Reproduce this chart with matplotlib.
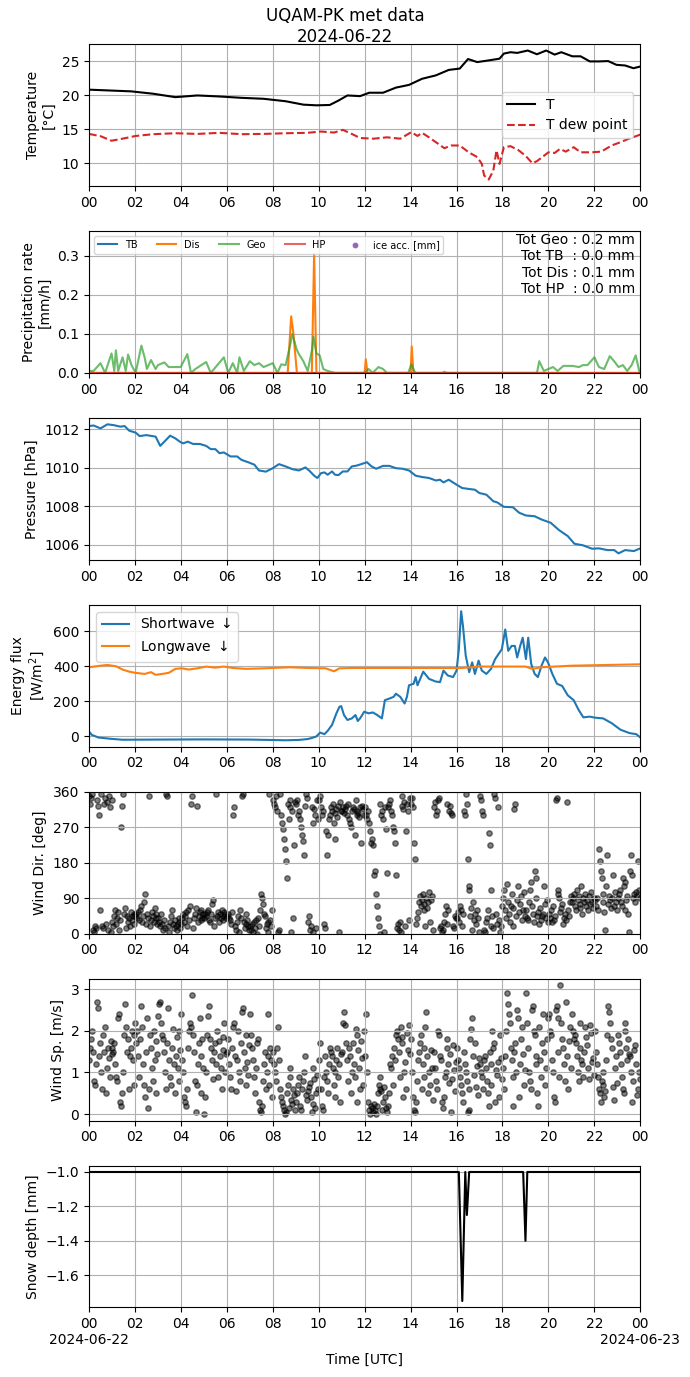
import numpy as np
import matplotlib
matplotlib.use("Agg")
from matplotlib import pyplot as plt

# ---------------- data (hours UTC on 2024-06-22) ----------------
t_temp = [0, 1.84, 2.8, 3.76, 4.72, 5.68, 6.64, 7.6, 8.56, 9.33, 9.9, 10.48, 10.86,
          11.25, 11.8, 12.2, 12.8, 13.36, 13.93, 14.5, 15.1, 15.66, 16.14, 16.5,
          16.9, 17.4, 17.87, 18.06, 18.35, 18.64, 19.1, 19.5, 19.9, 20.27, 20.56,
          21.04, 21.4, 21.8, 22.2, 22.6, 22.96, 23.34, 23.7, 24]
temp = [20.8, 20.55, 20.2, 19.7, 19.95, 19.8, 19.6, 19.46, 19.1, 18.6, 18.5, 18.55,
        19.2, 19.95, 19.85, 20.35, 20.35, 21.1, 21.5, 22.4, 22.9, 23.7, 23.9, 25.3,
        24.85, 25.1, 25.35, 26.1, 26.3, 26.2, 26.55, 26.0, 26.55, 25.95, 26.3,
        25.7, 25.7, 24.95, 24.95, 25.0, 24.45, 24.35, 23.95, 24.2]

t_dew = [0, 0.5, 0.98, 1.46, 2.03, 2.8, 3.76, 4.72, 5.68, 6.64, 7.6, 8.56, 9.5, 10.1,
         10.67, 11.05, 11.44, 11.8, 12.4, 12.97, 13.55, 14.03, 14.3, 14.5, 14.8,
         15.2, 15.47, 15.76, 16.14, 16.53, 16.9, 17.1, 17.2, 17.4, 17.6, 17.74,
         17.87, 18.06, 18.35, 18.7, 19.0, 19.3, 19.5, 20.0, 20.27, 20.5, 20.75,
         21.1, 21.4, 21.9, 22.3, 22.75, 23.15, 23.5, 24]
dew = [14.3, 13.97, 13.3, 13.6, 14.0, 14.26, 14.4, 14.3, 14.46, 14.26, 14.3, 14.4,
       14.46, 14.65, 14.5, 14.9, 14.3, 13.7, 13.6, 13.8, 13.6, 14.56, 14.0, 14.46,
       13.8, 12.85, 12.2, 12.6, 12.6, 11.6, 10.9, 9.9, 8.2, 7.6, 8.9, 11.9, 9.9,
       12.35, 12.5, 11.9, 11.1, 10.0, 10.3, 11.6, 11.5, 12.1, 11.7, 12.35, 11.6,
       11.6, 11.7, 12.6, 13.1, 13.6, 14.2]

t_geo = [0, 0.2, 0.5, 0.7, 0.98, 1.1, 1.17, 1.27, 1.46, 1.6, 1.7, 1.85, 2.03, 2.28,
         2.42, 2.52, 2.7, 2.9, 3.0, 3.28, 3.47, 3.76, 3.99, 4.28, 4.44, 4.63, 5.1,
         5.3, 5.87, 6.06, 6.26, 6.45, 6.55, 6.74, 7.0, 7.2, 7.4, 7.6, 8.0, 8.2,
         8.37, 8.56, 8.75, 8.85, 9.04, 9.14, 9.33, 9.52, 9.71, 9.77, 9.9, 10.04,
         10.2, 10.39, 10.7, 12.0, 12.17, 12.35, 12.6, 12.8, 12.97, 13.9, 14.03,
         14.2, 15.4, 15.47, 15.55, 19.5, 19.6, 19.8, 20.2, 20.4, 20.65, 21.04,
         21.33, 21.5, 21.7, 22.0, 22.2, 22.43, 22.67, 22.86, 23.05, 23.24, 23.43,
         23.62, 23.8, 23.95, 24]
geo = [0.005, 0.005, 0.025, 0.0, 0.05, 0.005, 0.058, 0.005, 0.04, 0.005, 0.047,
       0.02, 0.0, 0.07, 0.04, 0.01, 0.033, 0.01, 0.02, 0.027, 0.015, 0.015, 0.015,
       0.048, 0.0, 0.01, 0.028, 0.0, 0.04, 0.0, 0.025, 0.0, 0.04, 0.005, 0.03,
       0.02, 0.025, 0.015, 0.025, 0.0, 0.022, 0.02, 0.07, 0.1, 0.06, 0.048, 0.03,
       0.005, 0.06, 0.093, 0.05, 0.045, 0.01, 0.005, 0.0, 0.0, 0.01, 0.0, 0.015,
       0.01, 0.0, 0.0, 0.022, 0.0, 0.0, 0.003, 0.0, 0.0, 0.03, 0.005, 0.015,
       0.005, 0.018, 0.018, 0.015, 0.02, 0.02, 0.04, 0.015, 0.01, 0.043, 0.03,
       0.015, 0.02, 0.005, 0.02, 0.045, 0.005, 0.0]

t_dis = [0, 8.65, 8.8, 8.9, 9.05, 9.7, 9.8, 9.9, 12.0, 12.05, 12.12, 14.0, 14.05, 14.12, 24]
dis = [0, 0, 0.145, 0.1, 0, 0, 0.305, 0, 0, 0.035, 0, 0, 0.068, 0, 0]
t_tb = [0, 24]
tb = [0, 0]
t_hp = [0, 24]
hp = [0, 0]
totals = {"Geo": 0.2, "TB": 0.0, "Dis": 0.1, "HP": 0.0}

t_pres = [0, 0.2, 0.5, 0.8, 1.07, 1.36, 1.55, 1.75, 2.03, 2.2, 2.5, 2.9, 3.1, 3.28,
          3.53, 3.76, 3.95, 4.1, 4.3, 4.53, 4.82, 5.1, 5.3, 5.5, 5.68, 5.87, 6.16,
          6.45, 6.64, 6.93, 7.2, 7.4, 7.7, 8.0, 8.27, 8.56, 8.85, 9.14, 9.42, 9.6,
          9.8, 9.94, 10.1, 10.25, 10.39, 10.58, 10.71, 10.86, 11.05, 11.25, 11.44,
          11.67, 11.9, 12.1, 12.3, 12.5, 12.8, 13.07, 13.36, 13.65, 13.93, 14.22,
          14.5, 14.8, 15.1, 15.28, 15.43, 15.66, 15.95, 16.24, 16.53, 16.8, 16.99,
          17.3, 17.6, 17.77, 18.06, 18.45, 18.73, 19.02, 19.4, 19.7, 20.1, 20.46,
          20.84, 21.13, 21.5, 21.9, 22.2, 22.57, 22.86, 23.05, 23.34, 23.72, 24]
pres = [1012.17, 1012.2, 1012.05, 1012.26, 1012.22, 1012.14, 1012.17, 1011.93,
        1011.83, 1011.65, 1011.7, 1011.62, 1011.14, 1011.36, 1011.67, 1011.53,
        1011.36, 1011.27, 1011.36, 1011.24, 1011.24, 1011.14, 1010.97, 1010.97,
        1010.76, 1010.8, 1010.59, 1010.59, 1010.41, 1010.29, 1010.16, 1009.86,
        1009.8, 1009.98, 1010.19, 1010.07, 1009.93, 1009.86, 1010.02, 1009.84,
        1009.59, 1009.47, 1009.72, 1009.76, 1009.64, 1009.81, 1009.64, 1009.62,
        1009.81, 1009.81, 1010.07, 1010.12, 1010.21, 1010.29, 1010.07, 1009.95,
        1010.1, 1010.1, 1009.98, 1009.95, 1009.86, 1009.59, 1009.52, 1009.47,
        1009.34, 1009.38, 1009.24, 1009.38, 1009.16, 1008.95, 1008.9, 1008.86,
        1008.69, 1008.6, 1008.26, 1008.2, 1007.97, 1007.95, 1007.66, 1007.52,
        1007.48, 1007.31, 1007.14, 1006.76, 1006.45, 1006.05, 1005.97, 1005.79,
        1005.81, 1005.72, 1005.72, 1005.55, 1005.72, 1005.67, 1005.81]

t_sw = [0, 0.12, 0.4, 0.9, 1.46, 3.0, 5.0, 7.0, 8.56, 9.14, 9.52, 9.7, 9.9, 10.06,
        10.25, 10.39, 10.58, 10.77, 10.9, 10.98, 11.1, 11.25, 11.44, 11.6, 11.7,
        11.8, 11.98, 12.17, 12.36, 12.55, 12.75, 12.88, 13.07, 13.26, 13.36, 13.55,
        13.74, 13.84, 13.93, 14.13, 14.22, 14.3, 14.55, 14.8, 15.08, 15.28, 15.43,
        15.62, 15.85, 16.0, 16.1, 16.2, 16.28, 16.4, 16.55, 16.68, 16.8, 16.96,
        17.1, 17.3, 17.5, 17.68, 17.97, 18.12, 18.25, 18.4, 18.54, 18.64, 18.77,
        18.88, 19.02, 19.12, 19.25, 19.4, 19.54, 19.7, 19.85, 19.98, 20.17, 20.37,
        20.6, 20.84, 21.1, 21.32, 21.52, 21.8, 22.03, 22.38, 22.76, 23.14, 23.53,
        23.82, 24]
sw = [28, 9, -6, -13, -19, -18, -17, -18, -22, -20, -15, -9, 0, 22, 13, 32, 66,
      132, 169, 173, 122, 94, 103, 122, 88, 103, 141, 132, 137, 122, 103, 207,
      216, 226, 244, 226, 188, 226, 292, 301, 339, 292, 370, 329, 314, 310, 376,
      348, 339, 376, 498, 715, 630, 461, 367, 423, 357, 433, 376, 357, 386, 442,
      498, 611, 489, 517, 517, 451, 517, 564, 442, 564, 414, 357, 339, 404, 451,
      423, 357, 301, 288, 235, 207, 150, 109, 113, 107, 103, 75, 38, 19, 13, -6]

t_lw = [0, 0.5, 0.8, 1.17, 1.46, 1.75, 2.03, 2.42, 2.7, 2.9, 3.18, 3.47, 3.76,
        4.05, 4.34, 4.72, 5.1, 5.49, 5.87, 6.26, 6.83, 7.6, 8.75, 9.52, 10.3,
        10.67, 10.9, 11.44, 13.0, 15.0, 16.24, 17.0, 18.0, 19.0, 19.3, 19.7,
        21.0, 22.5, 24]
lw = [395, 404, 408, 401, 382, 370, 363, 357, 367, 352, 357, 363, 386, 389, 382,
      389, 399, 393, 399, 391, 386, 389, 395, 391, 389, 372, 389, 391, 391, 391,
      391, 399, 399, 399, 386, 395, 404, 408, 412]

# wind direction [deg], one list per hour (1 sample every 2.5 min)
wdir_hourly = [
    [350, 330, 345, 355, 10, 5, 20, 15, 340, 325, 300, 60, 355, 20, 15, 330, 345, 25, 335, 10, 350, 320, 5, 340],
    [30, 20, 45, 60, 25, 40, 55, 10, 35, 270, 325, 355, 50, 65, 15, 45, 30, 40, 20, 55, 35, 45, 25, 50],
    [45, 50, 40, 55, 35, 60, 70, 30, 45, 80, 100, 25, 50, 40, 350, 20, 35, 55, 45, 30, 65, 40, 50, 25],
    [40, 30, 20, 50, 25, 10, 35, 15, 355, 350, 20, 5, 30, 45, 60, 25, 15, 35, 20, 10, 25, 30, 40, 15],
    [25, 40, 50, 30, 45, 55, 20, 60, 35, 70, 330, 350, 15, 40, 50, 65, 325, 30, 45, 55, 35, 60, 40, 50],
    [40, 50, 45, 55, 60, 35, 30, 50, 75, 85, 20, 40, 355, 45, 55, 30, 50, 40, 60, 45, 35, 55, 50, 40],
    [45, 50, 40, 35, 25, 55, 300, 320, 20, 10, 30, 45, 5, 60, 40, 350, 355, 30, 15, 50, 25, 35, 20, 10],
    [20, 10, 25, 5, 30, 15, 35, 0, 40, 20, 60, 100, 90, 75, 50, 45, 15, 25, 5, 30, 355, 35, 20, 60],
    [340, 330, 320, 350, 310, 5, 10, 355, 300, 280, 265, 240, 215, 185, 140, 330, 290, 320, 340, 5, 310, 40, 225, 335],
    [330, 340, 300, 310, 290, 270, 250, 235, 200, 325, 355, 345, 30, 45, 10, 20, 320, 280, 5, 315, 300, 15, 340, 290],
    [340, 350, 320, 300, 310, 25, 15, 260, 200, 250, 290, 300, 320, 310, 330, 280, 240, 305, 315, 295, 325, 5, 335, 310],
    [310, 320, 305, 315, 325, 300, 330, 290, 280, 270, 310, 320, 315, 250, 340, 300, 310, 305, 295, 320, 230, 325, 315, 300],
    [320, 300, 290, 310, 280, 260, 230, 240, 225, 150, 160, 100, 70, 40, 20, 0, 330, 300, 310, 290, 5, 320, 265, 155],
    [320, 330, 340, 310, 300, 270, 260, 230, 150, 15, 25, 10, 30, 5, 350, 325, 315, 335, 20, 260, 330, 310, 35, 345],
    [330, 345, 320, 230, 190, 25, 40, 55, 80, 95, 70, 85, 100, 60, 75, 20, 90, 65, 80, 105, 30, 85, 95, 10],
    [320, 335, 300, 310, 340, 345, 15, 20, 5, 10, 30, 50, 70, 25, 330, 60, 310, 325, 305, 300, 20, 15, 45, 40],
    [40, 55, 30, 70, 60, 20, 50, 310, 300, 355, 330, 190, 120, 110, 45, 65, 10, 80, 35, 50, 25, 60, 40, 5],
    [350, 340, 310, 300, 10, 5, 30, 40, 60, 255, 225, 110, 20, 45, 15, 355, 345, 50, 25, 320, 35, 5, 20, 70],
    [90, 110, 60, 40, 125, 80, 50, 30, 70, 100, 65, 20, 315, 330, 45, 85, 120, 55, 75, 95, 35, 60, 105, 45],
    [60, 40, 35, 80, 110, 130, 70, 50, 30, 160, 140, 90, 45, 55, 25, 65, 35, 45, 50, 120, 75, 40, 85, 30],
    [50, 40, 60, 30, 70, 35, 45, 340, 345, 100, 110, 90, 55, 65, 75, 25, 40, 50, 35, 335, 60, 45, 80, 95],
    [80, 90, 100, 70, 60, 110, 85, 95, 75, 65, 120, 50, 90, 80, 100, 70, 85, 60, 95, 75, 105, 80, 65, 90],
    [85, 70, 90, 60, 215, 185, 160, 140, 100, 80, 55, 10, 120, 200, 75, 95, 85, 65, 90, 150, 70, 105, 80, 60],
    [90, 100, 110, 80, 70, 140, 120, 130, 60, 85, 95, 50, 5, 160, 200, 150, 90, 100, 80, 105, 95, 185, 110, 90],
]

# wind speed [m/s], one list per hour
wspd_hourly = [
    [1.3, 1.6, 1.8, 2.0, 1.5, 0.8, 0.7, 1.2, 2.7, 2.55, 1.4, 1.7, 1.0, 0.6, 1.9, 1.5, 2.1, 0.5, 1.1, 1.6, 1.35, 0.9, 1.75, 1.45],
    [1.6, 1.5, 1.7, 1.2, 0.9, 0.8, 2.3, 2.4, 0.3, 0.2, 0.5, 1.0, 1.9, 2.65, 2.1, 1.5, 1.8, 0.6, 1.4, 1.6, 2.0, 1.3, 0.7, 1.9],
    [2.2, 1.7, 2.0, 1.4, 0.9, 1.8, 2.6, 2.1, 1.2, 0.7, 0.4, 1.5, 2.3, 0.15, 0.6, 1.9, 1.6, 1.1, 0.8, 2.0, 1.3, 1.75, 0.5, 1.45],
    [2.35, 2.65, 2.7, 2.2, 1.9, 1.8, 1.5, 1.0, 0.6, 1.7, 2.55, 1.3, 0.9, 0.7, 1.6, 2.05, 1.2, 0.5, 1.4, 1.85, 1.1, 0.8, 2.0, 1.55],
    [2.4, 1.3, 1.0, 0.4, 0.3, 0.2, 0.6, 1.6, 2.0, 2.2, 2.1, 2.85, 1.9, 1.5, 0.8, 0.05, 0.7, 1.2, 1.7, 2.3, 0.5, 1.4, 1.8, 1.1],
    [0.0, 0.4, 1.0, 1.9, 2.35, 2.6, 1.8, 1.6, 1.3, 0.85, 1.5, 1.7, 1.2, 2.0, 0.9, 1.75, 1.4, 1.1, 0.6, 1.85, 1.55, 2.2, 1.0, 1.45],
    [1.5, 1.8, 1.2, 0.9, 0.6, 1.6, 2.1, 2.2, 1.4, 0.55, 1.3, 2.0, 1.0, 0.8, 1.7, 2.45, 2.55, 1.5, 1.1, 0.7, 1.9, 1.25, 0.95, 1.65],
    [2.4, 1.9, 1.6, 1.3, 0.9, 0.5, 1.1, 1.7, 1.8, 0.3, 0.1, 0.05, 0.2, 0.8, 1.2, 1.5, 0.6, 1.0, 2.4, 1.4, 0.7, 1.6, 1.3, 0.4],
    [1.5, 1.2, 1.0, 0.8, 1.6, 2.1, 1.3, 0.6, 0.4, 0.3, 0.2, 0.1, 0.0, 0.05, 0.5, 0.7, 0.15, 0.9, 1.1, 0.35, 0.25, 0.6, 0.45, 0.1],
    [0.3, 0.5, 0.7, 0.9, 0.2, 0.1, 0.6, 0.8, 1.0, 1.4, 0.45, 0.35, 0.55, 0.65, 0.75, 0.4, 0.05, 0.25, 1.1, 0.85, 0.15, 0.5, 0.95, 0.6],
    [1.3, 1.7, 0.6, 0.2, 0.1, 0.9, 1.4, 1.0, 0.8, 0.5, 1.2, 1.6, 1.5, 1.4, 1.1, 0.7, 1.0, 0.4, 1.3, 1.6, 0.9, 1.2, 0.3, 1.45],
    [1.5, 2.2, 2.45, 2.15, 1.7, 1.3, 0.8, 1.6, 1.4, 0.5, 1.0, 1.7, 1.2, 0.9, 2.05, 1.9, 0.3, 1.55, 1.1, 0.6, 1.75, 1.35, 0.7, 2.0],
    [1.4, 2.4, 1.0, 0.3, 0.1, 0.0, 0.2, 0.15, 0.05, 0.25, 0.1, 0.0, 0.2, 0.5, 0.7, 0.9, 0.6, 0.55, 0.1, 0.3, 0.65, 0.4, 0.15, 0.05],
    [0.2, 0.5, 1.2, 1.1, 1.4, 0.7, 1.6, 1.3, 1.9, 2.0, 1.8, 1.5, 0.9, 2.1, 1.85, 1.7, 0.4, 1.0, 1.25, 0.6, 1.95, 1.55, 2.15, 1.45],
    [1.8, 1.0, 0.4, 0.1, 0.05, 0.3, 0.8, 1.3, 1.5, 1.7, 1.9, 0.6, 1.2, 0.9, 1.6, 2.1, 2.45, 1.4, 0.5, 1.0, 0.7, 1.55, 1.1, 0.35],
    [1.5, 1.1, 0.8, 0.6, 2.0, 1.9, 1.4, 1.3, 0.3, 0.15, 0.4, 0.9, 1.0, 1.6, 1.8, 1.2, 0.75, 1.45, 0.05, 0.85, 1.65, 1.05, 0.55, 1.25],
    [1.6, 1.3, 1.1, 0.9, 0.7, 0.5, 0.3, 1.5, 1.2, 1.0, 0.8, 0.05, 0.1, 0.6, 1.8, 2.05, 2.3, 1.4, 0.95, 1.7, 0.65, 1.15, 0.45, 1.35],
    [1.2, 1.0, 0.9, 0.6, 1.3, 1.4, 1.1, 0.8, 0.5, 0.2, 1.5, 0.7, 1.2, 2.0, 1.6, 1.7, 0.3, 1.05, 0.95, 1.25, 0.4, 1.9, 1.35, 0.85],
    [1.1, 0.6, 1.4, 2.0, 2.9, 2.65, 2.4, 2.2, 1.6, 1.3, 0.9, 0.2, 1.5, 1.7, 1.0, 2.5, 2.3, 0.4, 1.2, 1.8, 2.1, 1.45, 0.7, 1.05],
    [2.9, 2.2, 1.6, 1.0, 0.8, 0.6, 2.5, 2.6, 2.0, 1.9, 1.4, 1.2, 0.5, 0.2, 2.1, 1.3, 0.9, 1.7, 2.4, 1.5, 0.7, 1.1, 1.8, 2.3],
    [2.4, 2.0, 1.9, 1.3, 1.0, 0.4, 0.3, 2.5, 2.6, 2.3, 1.5, 0.9, 3.1, 2.2, 1.8, 1.6, 1.2, 0.8, 2.7, 1.4, 0.6, 1.75, 2.1, 1.1],
    [2.4, 2.0, 1.8, 1.9, 1.7, 1.4, 1.0, 0.8, 2.2, 1.6, 1.3, 1.2, 0.9, 1.5, 2.1, 1.85, 1.65, 1.1, 0.85, 2.15, 1.95, 1.25, 1.35, 0.95],
    [2.0, 1.5, 1.2, 0.9, 0.6, 0.5, 0.3, 0.8, 1.0, 0.7, 0.4, 0.55, 1.3, 1.9, 2.6, 2.45, 2.2, 1.8, 1.6, 0.65, 0.35, 1.1, 1.4, 0.75],
    [1.9, 1.7, 1.5, 1.2, 0.9, 0.6, 0.5, 2.2, 2.0, 1.6, 1.3, 1.8, 1.45, 1.4, 1.0, 0.3, 0.8, 1.55, 1.65, 1.2, 0.45, 0.6, 1.0, 0.85],
]

t_snow = [0, 16.1, 16.25, 16.38, 16.45, 16.55, 18.9, 19.0, 19.08, 24]
snow = [-1.0, -1.0, -1.75, -1.0, -1.25, -1.0, -1.0, -1.4, -1.0, -1.0]

hour_ticks = list(range(0, 25, 2))
hour_labels = ["%02d" % (h % 24) for h in hour_ticks]
date_start = "2024-06-22"
date_end = "2024-06-23"


def hourly_times(lists):
    tt, vv = [], []
    for h, vals in enumerate(lists):
        n = len(vals)
        for i, v in enumerate(vals):
            tt.append(h + (i + 0.5) / n)
            vv.append(v)
    return tt, vv


fig, axes = plt.subplots(7, 1, figsize=(6.9, 13.77), dpi=100)
fig.subplots_adjust(left=0.129, right=0.928, top=0.968, bottom=0.0505, hspace=0.317)
fig.suptitle("UQAM-PK met data\n" + date_start, fontsize=12, y=0.995)

# temperature
ax = axes[0]
ax.plot(t_temp, temp, color="k", label="T")
ax.plot(t_dew, dew, color="tab:red", linestyle="--", label="T dew point")
ax.set_ylabel("Temperature\n[°C]")
ax.legend(loc="center right")

# precipitation
ax = axes[1]
ax.plot(t_tb, tb, color="tab:blue", label="TB")
ax.plot(t_dis, dis, color="tab:orange", label="Dis")
ax.plot(t_geo, geo, color="tab:green", alpha=0.7, label="Geo")
ax.plot(t_hp, hp, color="tab:red", alpha=0.7, label="HP")
ax.scatter([], [], color="tab:purple", s=10, label="ice acc. [mm]")
ax.set_ylim(0, 0.364)
ax.set_ylabel("Precipitation rate\n[mm/h]")
ax.legend(loc="upper left", ncol=5, fontsize=7)
txt = ("Tot Geo : %.1f mm\nTot TB  : %.1f mm\nTot Dis : %.1f mm\nTot HP  : %.1f mm"
       % (totals["Geo"], totals["TB"], totals["Dis"], totals["HP"]))
ax.text(0.99, 0.985, txt, transform=ax.transAxes, ha="right", va="top",
        multialignment="right", fontsize=10)

# pressure
ax = axes[2]
ax.plot(t_pres, pres, color="tab:blue")
ax.set_ylabel("Pressure [hPa]")

# radiation
ax = axes[3]
ax.plot(t_sw, sw, color="tab:blue", label="Shortwave $\\downarrow$")
ax.plot(t_lw, lw, color="tab:orange", label="Longwave $\\downarrow$")
ax.set_ylabel("Energy flux\n[W/m$^2$]")
ax.legend(loc="upper left")

# wind direction
ax = axes[4]
tw, vw = hourly_times(wdir_hourly)
ax.scatter(tw, vw, color="k", s=15, alpha=0.5)
ax.set_ylim(0, 360)
ax.set_yticks([0, 90, 180, 270, 360])
ax.set_ylabel("Wind Dir. [deg]")

# wind speed
ax = axes[5]
ts, vs = hourly_times(wspd_hourly)
ax.scatter(ts, vs, color="k", s=15, alpha=0.5)
ax.set_ylabel("Wind Sp. [m/s]")

# snow depth
ax = axes[6]
ax.plot(t_snow, snow, color="k")
ax.set_ylabel("Snow depth [mm]")
ax.set_xlabel("Time [UTC]")

for i, ax in enumerate(axes):
    ax.set_xlim(0, 24)
    ax.set_xticks(hour_ticks)
    if i == len(axes) - 1:
        labs = list(hour_labels)
        labs[0] = labs[0] + "\n" + date_start
        labs[-1] = labs[-1] + "\n" + date_end
        ax.set_xticklabels(labs)
    else:
        ax.set_xticklabels(hour_labels)
    ax.grid(True)

plt.savefig("out.png", dpi=100)
